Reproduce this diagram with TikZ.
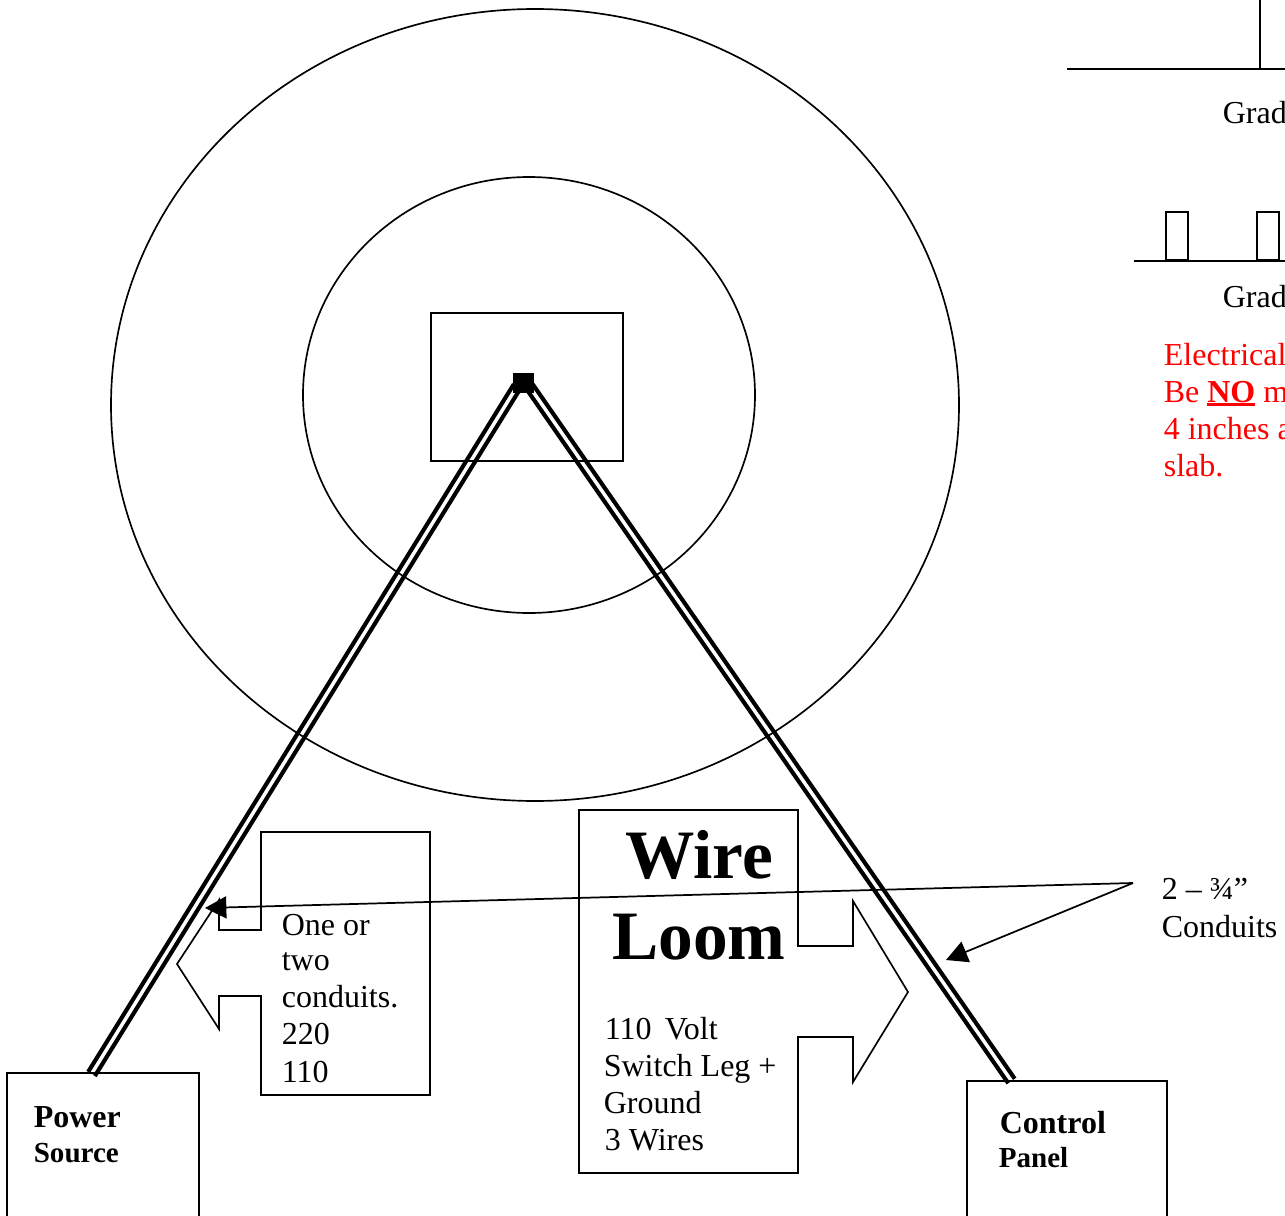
\documentclass[tikz,border=0pt]{standalone}
\usepackage{fontspec}
\setmainfont{Liberation Serif}
\usetikzlibrary{shapes.geometric, arrows.meta, calc, backgrounds}
\definecolor{notered}{HTML}{FF0000}
\newsavebox{\nobox}
\newcommand{\heavyline}[1]{\sbox{\nobox}{#1}\rlap{\rule[-3.2pt]{\wd\nobox}{2.2pt}}\usebox{\nobox}}

\begin{document}
\begin{tikzpicture}[x=0.75pt, y=-0.75pt, line width=1.25pt, line join=miter,
    ring/.style={ellipse, draw, inner sep=0pt, outer sep=0pt},
    panel/.style={rectangle, draw, inner sep=0pt, outer sep=0pt, anchor=north west},
    conduit/.style={line width=3.2pt, double=white, double distance=2.6pt},
    leader/.style={-{Triangle[length=16pt, width=16.5pt]}, line width=1.3pt, shorten >=0pt},
    body/.style={inner sep=0pt, anchor=base west, align=left, font=\fontsize{24}{27.7}\selectfont},
    boldtext/.style={inner sep=0pt, anchor=base west, font=\fontsize{24}{24}\selectfont\bfseries},
    bigtext/.style={inner sep=0pt, anchor=base, font=\fontsize{52}{60}\selectfont\bfseries}]

    \useasboundingbox (0,0) rectangle (1285,1216);

    % Plan rings and pad
    \node[ring, minimum width=636pt, minimum height=594pt] (outer) at (535,405) {};
    \node[ring, minimum width=339pt, minimum height=327pt] (inner) at (529,395) {};
    \node[panel, minimum width=144pt, minimum height=111pt] (pad) at (431,313) {};
    \node[rectangle, fill=black, inner sep=0pt, outer sep=0pt, minimum width=15.75pt, minimum height=15pt] (hub) at (523.5,383) {};

    % End boxes
    \node[panel, minimum width=144pt, minimum height=150pt] (power) at (7,1073) {};
    \node[panel, minimum width=150pt, minimum height=150pt] (control) at (967,1081) {};
    \coordinate (powerin) at ($(power.north west)+(84.5,1)$);
    \coordinate (controlin) at ($(control.north west)+(44.5,0)$);

    % Conduits
    \begin{scope}[on background layer]
      \draw[conduit, shorten <=-6pt] (hub.south west) -- (powerin);
      \draw[conduit, shorten <=-6pt] (hub.south east) -- (controlin);
    \end{scope}

    % Callouts
    \draw (261,832) -- (430,832) -- (430,1095) -- (261,1095) -- (261,996) -- (219,996) -- (219,1029)
      -- (177,964) -- (219,900) -- (219,930) -- (261,930) -- cycle;
    \draw (579,810) -- (798,810) -- (798,946) -- (853,946) -- (853,901) -- (908,992) -- (853,1082)
      -- (853,1037) -- (798,1037) -- (798,1173) -- (579,1173) -- cycle;

    % Labels
    \node[boldtext] (powerlbl) at (33,1127) {Power};
    \node[boldtext, font=\fontsize{21.8}{24}\selectfont\bfseries] (sourcelbl) at (33,1162) {Source};
    \node[boldtext] (controllbl) at (999,1133) {Control};
    \node[boldtext, font=\fontsize{21.8}{24}\selectfont\bfseries] (panellbl) at (998,1167) {Panel};
    \node[bigtext] (wirelbl) at (699,878) {Wire};
    \node[bigtext] (loomlbl) at (699,959) {Loom};
    \node[body] (onelbl) at (281,935) {One or};
    \node[body] (twolbl) at (281,970) {two};
    \node[body] (condlbl) at (281,1007) {conduits.};
    \node[body] (volt1lbl) at (281,1044) {220};
    \node[body] (volt2lbl) at (281,1082) {110};
    \node[body] (voltlbl) at (604,1039) {110\hspace{4pt} Volt};
    \node[body] (leglbl) at (603,1076) {Switch Leg +};
    \node[body] (groundlbl) at (603,1113) {Ground};
    \node[body] (wireslbl) at (604,1150) {3 Wires};
    \node[body] (sizelbl) at (1161,899) {2 – ¾”};
    \node[body] (typelbl) at (1161,937) {Conduits};

    % Leaders
    \coordinate (split) at (1133,883);
    \coordinate (lefthit) at (205,908);
    \coordinate (righthit) at (946,960);
    \draw[leader] (split) -- (lefthit);
    \draw[leader] (split) -- (righthit);

    % Grade details
    \coordinate (gradeA) at (1067,69);
    \coordinate (gradeB) at (1134,261);
    \draw[line width=1.6pt] (gradeA) -- (1285,69);
    \draw (1260,0) -- (1260,69);
    \draw[line width=1.6pt] (gradeB) -- (1285,261);
    \draw (1166,260) rectangle (1188,212);
    \draw (1257,260) rectangle (1279,212);
    \node[body] (grade1lbl) at (1222,124) {Grad};
    \node[body] (grade2lbl) at (1222,308) {Grad};

    % Note
    \node[body, text=notered] (note1) at (1163,365) {Electrical};
    \node[body, text=notered] (note2) at (1163,402) {Be \heavyline{\textbf{NO}} m};
    \node[body, text=notered] (note3) at (1163,439) {4 inches a};
    \node[body, text=notered] (note4) at (1163,476) {slab.};
\end{tikzpicture}
\end{document}
